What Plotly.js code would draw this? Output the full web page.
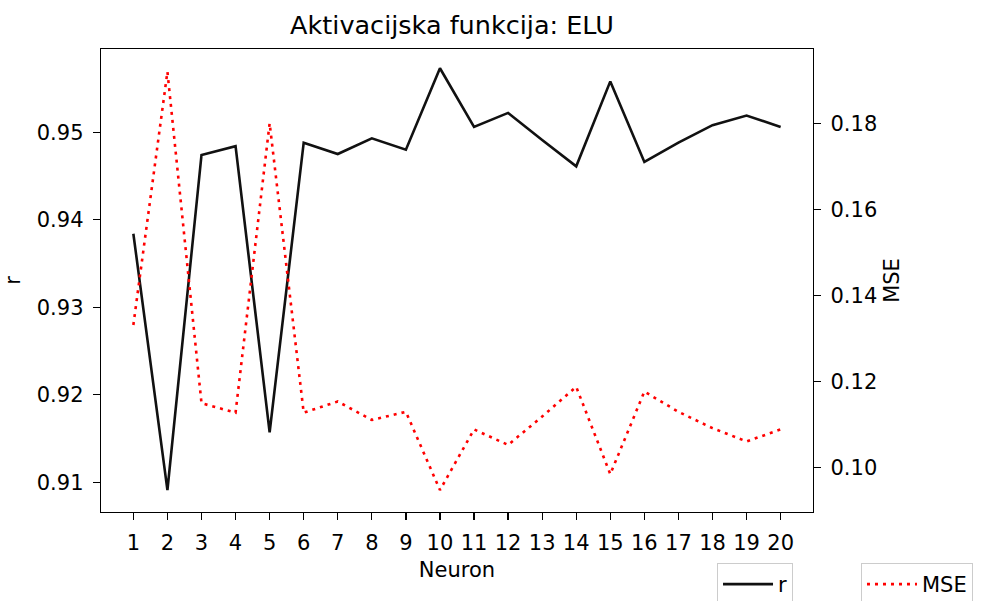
<!DOCTYPE html>
<html>
<head>
<meta charset="utf-8">
<script src="https://cdn.plot.ly/plotly-3.0.1.min.js"></script>
<style>html,body{margin:0;padding:0;background:#fff;}#chart{width:981px;height:601px;}</style>
</head>
<body>
<div id="chart"></div>
<script>
var neurons = [1,2,3,4,5,6,7,8,9,10,11,12,13,14,15,16,17,18,19,20];
var rValues = [0.9384,0.9091,0.9474,0.9484,0.9157,0.9488,0.9475,0.9493,0.9480,0.9573,0.9506,0.9522,0.9491,0.9461,0.9558,0.9466,0.9488,0.9508,0.9519,0.9506];
var mseValues = [0.1331,0.1920,0.1149,0.1127,0.1800,0.1127,0.1153,0.1110,0.1129,0.0947,0.1088,0.1052,0.1118,0.1187,0.0984,0.1176,0.1129,0.1091,0.1060,0.1088];
var rTicks = [0.91,0.92,0.93,0.94,0.95];
var mseTicks = [0.10,0.12,0.14,0.16,0.18];

var FONT = "DejaVu Sans";
var traces = [
  {x: neurons, y: rValues, type: 'scatter', mode: 'lines', name: 'r',
   line: {color: '#111111', width: 2.6}, yaxis: 'y', legend: 'legend'},
  {x: neurons, y: mseValues, type: 'scatter', mode: 'lines', name: 'MSE',
   line: {color: '#ff0000', width: 2.6, dash: '3px,5px'}, yaxis: 'y2', legend: 'legend2'}
];
var axisCommon = {
  showgrid: false, zeroline: false, showline: true, linecolor: '#000', linewidth: 1.3,
  ticks: 'outside', ticklen: 7, tickwidth: 1.3, tickcolor: '#000',
  tickfont: {family: FONT, size: 21, color: '#000'}
};
var layout = {
  width: 981, height: 601,
  margin: {l: 101, r: 168, t: 49, b: 89, pad: 0, autoexpand: false},
  paper_bgcolor: '#fff', plot_bgcolor: '#fff',
  font: {family: FONT, color: '#000'},
  title: {text: 'Aktivacijska funkcija: ELU', font: {family: FONT, size: 25.5, color: '#000'},
          x: 0.493, xref: 'paper', xanchor: 'center', y: 1 - 25/601, yref: 'container', yanchor: 'middle'},
  xaxis: Object.assign({}, axisCommon, {
    range: [0.05, 20.95], tickvals: neurons, ticktext: neurons.map(String), mirror: true,
    ticklabelstandoff: 4, automargin: false,
    title: {text: 'Neuron', font: {family: FONT, size: 21, color: '#000'}, standoff: 8}
  }),
  yaxis: Object.assign({}, axisCommon, {
    range: [0.90661, 0.9595], tickvals: rTicks, ticktext: rTicks.map(function(v){return v.toFixed(2);}),
    mirror: true, ticklabelstandoff: 5, automargin: false,
    title: {text: 'r', font: {family: FONT, size: 21, color: '#000'}, standoff: 10}
  }),
  yaxis2: Object.assign({}, axisCommon, {
    range: [0.0896, 0.19728], tickvals: mseTicks, ticktext: mseTicks.map(function(v){return v.toFixed(2);}),
    overlaying: 'y', side: 'right', anchor: 'x', ticklabelstandoff: 5, automargin: false,
    title: {text: 'MSE', font: {family: FONT, size: 21, color: '#000'}, standoff: 8}
  }),
  legend: {x: 0.8652, xanchor: 'left', y: -0.1102, yanchor: 'top', xref: 'paper', yref: 'paper',
           bordercolor: '#cccccc', borderwidth: 1, bgcolor: '#fff',
           font: {family: FONT, size: 21, color: '#000'}, itemwidth: 50},
  legend2: {x: 1.0674, xanchor: 'left', y: -0.1102, yanchor: 'top', xref: 'paper', yref: 'paper',
           bordercolor: '#cccccc', borderwidth: 1, bgcolor: '#fff',
           font: {family: FONT, size: 21, color: '#000'}, itemwidth: 50},
  showlegend: true
};
Plotly.newPlot('chart', traces, layout, {displayModeBar: false, staticPlot: true});
</script>
</body>
</html>
